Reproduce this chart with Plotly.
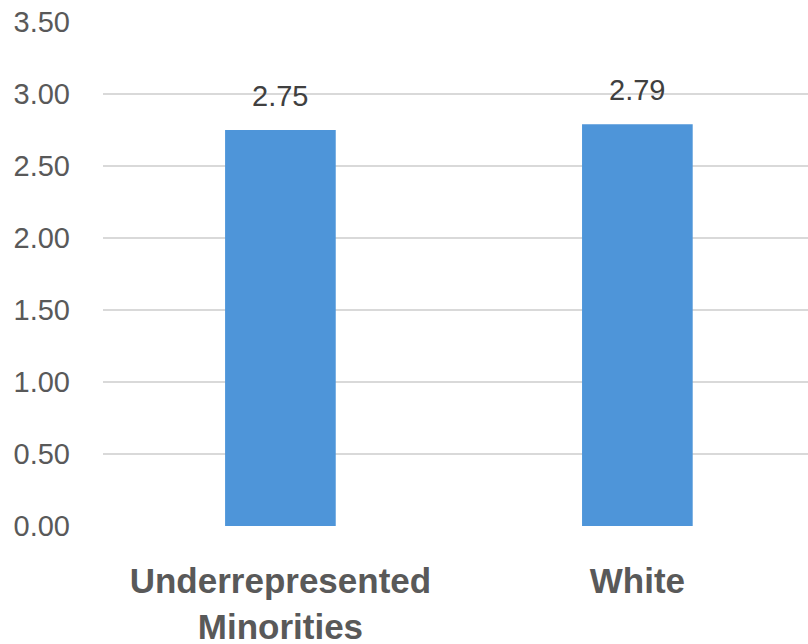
import plotly.graph_objects as go

# Average score by group
categories = ["Underrepresented<br>Minorities", "White"]
values = [2.75, 2.79]
value_labels = ["2.75", "2.79"]
y_ticks = [0, 0.5, 1.0, 1.5, 2.0, 2.5, 3.0, 3.5]
y_tick_labels = ["0.00", "0.50", "1.00", "1.50", "2.00", "2.50", "3.00", "3.50"]

bar_color = "#4E95D9"
grid_color = "#D9D9D9"

fig = go.Figure(
    go.Bar(
        x=categories,
        y=values,
        width=0.31,
        marker=dict(color=bar_color, line=dict(width=0)),
        hoverinfo="skip",
    )
)

# value labels above each bar
for cat, val, lab in zip(categories, values, value_labels):
    fig.add_annotation(
        x=cat, y=val, text=lab, showarrow=False,
        yanchor="bottom", yshift=16,
        font=dict(family="Liberation Sans, Arial, sans-serif", size=29, color="#404040"),
    )

fig.update_layout(
    width=808,
    height=644,
    margin=dict(l=103, r=0, t=22, b=118),
    paper_bgcolor="white",
    plot_bgcolor="white",
    showlegend=False,
    xaxis=dict(
        type="category",
        range=[-0.497, 1.478],
        automargin=False,
        showgrid=False,
        showline=False,
        zeroline=False,
        ticks="",
        tickfont=dict(family="Liberation Sans, Arial, sans-serif", size=35, color="#595959", weight="bold"),
        ticklabelstandoff=31,
    ),
    yaxis=dict(
        range=[0, 3.5],
        automargin=False,
        tickvals=y_ticks,
        ticktext=y_tick_labels,
        showgrid=True,
        gridcolor=grid_color,
        gridwidth=2,
        zeroline=False,
        showline=False,
        ticks="",
        tickfont=dict(family="Liberation Sans, Arial, sans-serif", size=29, color="#595959"),
        ticklabelstandoff=32,
    ),
)

fig.write_html("out.html")
